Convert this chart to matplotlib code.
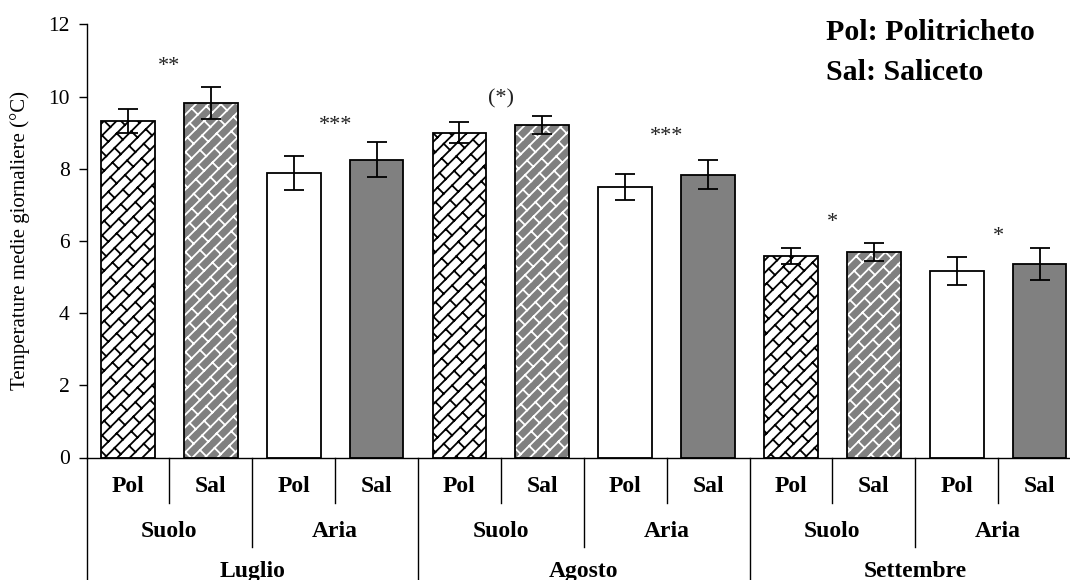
#!/usr/bin/env python3
"""Daily mean temperatures (soil and air) at the Politricheto and Saliceto sites."""
import warnings

import matplotlib

matplotlib.use("Agg")
import matplotlib.pyplot as plt  # noqa: E402
import numpy as np  # noqa: E402
from matplotlib import hatch as mhatch  # noqa: E402
from matplotlib.transforms import blended_transform_factory  # noqa: E402

months = ["Luglio", "Agosto", "Settembre"]
media = ["Suolo", "Aria"]
sites = ["Pol", "Sal"]

# one value per bar, ordered month -> medium -> site
means = [9.33, 9.81, 7.88, 8.25,
         9.00, 9.22, 7.50, 7.83,
         5.57, 5.70, 5.17, 5.35]
errors = [0.33, 0.44, 0.47, 0.49,
          0.28, 0.25, 0.36, 0.40,
          0.22, 0.25, 0.39, 0.44]

# significance of the Pol/Sal difference, one per month/medium pair
signif = ["**", "***", "(*)", "***", "*", "*"]
signif_y = [10.93, 9.29, 10.04, 8.99, 6.60, 6.21]

legend_lines = ["Pol: Politricheto", "Sal: Saliceto"]

GREY = "#808080"


class BrickHatch(mhatch.HatchPatternBase):
    """Diagonal brick texture for the 'b' hatch character."""

    rows = 8     # courses per hatch tile (must be even)
    joints = 3   # joints per course along x + y

    def __init__(self, hatch, density):
        segs = []
        if "b" in hatch:
            n, m = self.rows, self.joints
            for k in range(-n, n + 1):
                d = k / n
                segs.append(((-1.0, -1.0 + d), (2.0, 2.0 + d)))
            for k in range(-n - 1, n + 1):
                d0, d1 = k / n, (k + 1) / n
                for j in range(-2, 2 * m + 3):
                    c = (j + 0.5 * (k % 2)) / m
                    segs.append((((c - d0) / 2, (c + d0) / 2),
                                 ((c - d1) / 2, (c + d1) / 2)))
        self.segs = segs
        self.num_vertices = 2 * len(segs)

    def set_vertices_and_codes(self, vertices, codes):
        for i, (p0, p1) in enumerate(self.segs):
            vertices[2 * i] = p0
            vertices[2 * i + 1] = p1
        codes[0::2] = mhatch.Path.MOVETO
        codes[1::2] = mhatch.Path.LINETO


mhatch._hatch_types.append(BrickHatch)
warnings.filterwarnings("ignore", message="hatch must consist")

plt.rcParams["font.family"] = ["Liberation Serif", "DejaVu Serif"]
plt.rcParams["hatch.linewidth"] = 1.3

fig = plt.figure(figsize=(10.7, 5.8), dpi=100)
W, H = 1070, 580
ax = fig.add_axes([86.5 / W, 122.5 / H, 994.5 / W, 433.2 / H])

x = np.arange(len(means))
width = 0.65
for i in x:
    soil = (i // 2) % 2 == 0
    sal = i % 2 == 1
    face = GREY if sal else "white"
    if soil:
        ax.bar(i, means[i], width, color=face, edgecolor="white" if sal else "black",
               hatch="b", linewidth=0, zorder=2)
    else:
        ax.bar(i, means[i], width, color=face, linewidth=0, zorder=2)
    ax.bar(i, means[i], width, fill=False, edgecolor="black", linewidth=1.3, zorder=3)

ax.errorbar(x, means, yerr=errors, fmt="none", ecolor="black", elinewidth=1.3,
            capsize=7, capthick=1.3, zorder=4)

for p, (mark, y) in enumerate(zip(signif, signif_y)):
    ax.annotate(mark, (2 * p + 0.5, y), xytext=(0, -2.5), textcoords="offset points",
                ha="center", va="center", fontsize=16, color="#222222")

ax.set_xlim(-0.5, len(means) - 0.5)
ax.set_ylim(0, 12)
ax.set_yticks(np.arange(0, 13, 2))
ax.tick_params(axis="y", labelsize=15.5, length=6, width=1, pad=6)
ax.set_xticks([])
for side in ("top", "right"):
    ax.spines[side].set_visible(False)
for side in ("left", "bottom"):
    ax.spines[side].set_linewidth(1)
ax.spines["left"].set_bounds(0, 12)
ax.set_ylabel("Temperature medie giornaliere (°C)", fontsize=15, labelpad=13)

# three-level category axis below the bars
tr = blended_transform_factory(ax.transData, ax.transAxes)
row_y = [-0.068, -0.170, -0.263]
row_end = [-0.105, -0.207, -0.35]
n = len(means)
for b in range(n + 1):
    xb = b - 0.5
    if b % 4 == 0:
        y_end = row_end[2]
    elif b % 2 == 0:
        y_end = row_end[1]
    else:
        y_end = row_end[0]
    ax.plot([xb, xb], [0, y_end], color="black", lw=1, transform=tr, clip_on=False)

for i in x:
    ax.text(i, row_y[0], sites[i % 2], transform=tr, ha="center", va="center",
            fontsize=17, fontweight="bold")
for j in range(n // 2):
    ax.text(2 * j + 0.5, row_y[1], media[j % 2], transform=tr, ha="center",
            va="center", fontsize=17, fontweight="bold")
for j, month in enumerate(months):
    ax.text(4 * j + 1.5, row_y[2], month, transform=tr, ha="center", va="center",
            fontsize=17, fontweight="bold")

fig.text(826 / W, 1 - 32 / H, legend_lines[0], ha="left", va="center",
         fontsize=21.5, fontweight="bold")
fig.text(826 / W, 1 - 73 / H, legend_lines[1], ha="left", va="center",
         fontsize=21.5, fontweight="bold")

fig.savefig("out.png", dpi=100)
